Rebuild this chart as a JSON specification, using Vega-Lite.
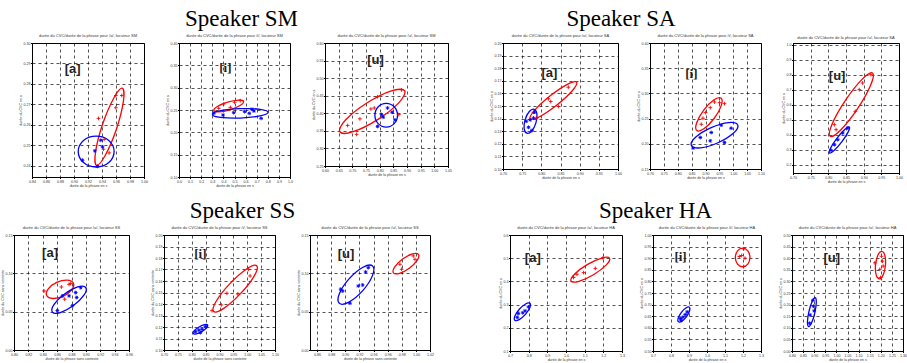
{
"$schema":"https://vega.github.io/schema/vega-lite/v6.json",
"padding":{"left":0,"top":8,"right":0,"bottom":0},
"background":"white",
"config":{
 "view":{"stroke":"black","strokeWidth":1},
 "axis":{"labelFontSize":3.6,"titleFontSize":3.6,"titleFontWeight":"normal","labelFont":"Liberation Sans","titleFont":"Liberation Sans","labelColor":"#333","titleColor":"#333","tickSize":1.5,"tickColor":"black","labelPadding":0.5,"titlePadding":0.5,"grid":true,"gridColor":"black","gridDash":[3,3],"gridWidth":0.8,"gridOpacity":0.85,"domainColor":"black","labelOverlap":false,"labelFlush":false},
 "title":{"fontSize":4,"font":"Liberation Sans","fontWeight":"normal","offset":3,"color":"#333"}
},
"data":{"values":[
{"p":"SMa","k":"e","g":"r","o":0,"x":0.969,"y":0.2779},{"p":"SMa","k":"e","g":"r","o":1,"x":0.9706,"y":0.2715},{"p":"SMa","k":"e","g":"r","o":2,"x":0.9607,"y":0.2579},{"p":"SMa","k":"e","g":"r","o":3,"x":0.9445,"y":0.2449},{"p":"SMa","k":"e","g":"r","o":4,"x":0.9322,"y":0.2401},{"p":"SMa","k":"e","g":"r","o":5,"x":0.9307,"y":0.2465},{"p":"SMa","k":"e","g":"r","o":6,"x":0.9407,"y":0.2601},{"p":"SMa","k":"e","g":"r","o":7,"x":0.9569,"y":0.2731},
{"p":"SMa","k":"e","g":"b","o":0,"x":0.9573,"y":0.2469},{"p":"SMa","k":"e","g":"b","o":1,"x":0.9497,"y":0.2523},{"p":"SMa","k":"e","g":"b","o":2,"x":0.9317,"y":0.2544},{"p":"SMa","k":"e","g":"b","o":3,"x":0.9136,"y":0.2523},{"p":"SMa","k":"e","g":"b","o":4,"x":0.906,"y":0.2469},{"p":"SMa","k":"e","g":"b","o":5,"x":0.9136,"y":0.2415},{"p":"SMa","k":"e","g":"b","o":6,"x":0.9317,"y":0.2393},{"p":"SMa","k":"e","g":"b","o":7,"x":0.9497,"y":0.2415},
{"p":"SMa","k":"p","g":"r","x":0.935,"y":0.2631},{"p":"SMa","k":"p","g":"r","x":0.9597,"y":0.2743},{"p":"SMa","k":"p","g":"r","x":0.9683,"y":0.2743},{"p":"SMa","k":"p","g":"r","x":0.9597,"y":0.2683},{"p":"SMa","k":"p","g":"r","x":0.9431,"y":0.2528},{"p":"SMa","k":"p","g":"r","x":0.9502,"y":0.2462},{"p":"SMa","k":"p","g":"r","x":0.9421,"y":0.248},
{"p":"SMa","k":"p","g":"b","x":0.9298,"y":0.2472},{"p":"SMa","k":"p","g":"b","x":0.9383,"y":0.2524},{"p":"SMa","k":"p","g":"b","x":0.9407,"y":0.2492},{"p":"SMa","k":"p","g":"b","x":0.9122,"y":0.2426},{"p":"SMa","k":"p","g":"b","x":0.9336,"y":0.2396},
{"p":"SMa","k":"t","x":0.898,"y":0.2872,"t":"[a]"},
{"p":"SMi","k":"e","g":"r","o":0,"x":0.582,"y":0.2691},{"p":"SMi","k":"e","g":"r","o":1,"x":0.55,"y":0.2601},{"p":"SMi","k":"e","g":"r","o":2,"x":0.458,"y":0.2504},{"p":"SMi","k":"e","g":"r","o":3,"x":0.36,"y":0.2457},{"p":"SMi","k":"e","g":"r","o":4,"x":0.313,"y":0.2489},{"p":"SMi","k":"e","g":"r","o":5,"x":0.346,"y":0.2579},{"p":"SMi","k":"e","g":"r","o":6,"x":0.438,"y":0.2676},{"p":"SMi","k":"e","g":"r","o":7,"x":0.536,"y":0.2723},
{"p":"SMi","k":"e","g":"b","o":0,"x":0.803,"y":0.2448},{"p":"SMi","k":"e","g":"b","o":1,"x":0.73,"y":0.2366},{"p":"SMi","k":"e","g":"b","o":2,"x":0.552,"y":0.232},{"p":"SMi","k":"e","g":"b","o":3,"x":0.375,"y":0.2335},{"p":"SMi","k":"e","g":"b","o":4,"x":0.301,"y":0.2402},{"p":"SMi","k":"e","g":"b","o":5,"x":0.375,"y":0.2484},{"p":"SMi","k":"e","g":"b","o":6,"x":0.552,"y":0.253},{"p":"SMi","k":"e","g":"b","o":7,"x":0.73,"y":0.2515},
{"p":"SMi","k":"p","g":"r","x":0.358,"y":0.2538},{"p":"SMi","k":"p","g":"r","x":0.463,"y":0.256},{"p":"SMi","k":"p","g":"r","x":0.501,"y":0.2673},{"p":"SMi","k":"p","g":"r","x":0.552,"y":0.271},{"p":"SMi","k":"p","g":"r","x":0.403,"y":0.2635},
{"p":"SMi","k":"p","g":"b","x":0.313,"y":0.2425},{"p":"SMi","k":"p","g":"b","x":0.397,"y":0.2388},{"p":"SMi","k":"p","g":"b","x":0.493,"y":0.244},{"p":"SMi","k":"p","g":"b","x":0.591,"y":0.2463},{"p":"SMi","k":"p","g":"b","x":0.657,"y":0.2515},{"p":"SMi","k":"p","g":"b","x":0.675,"y":0.2478},{"p":"SMi","k":"p","g":"b","x":0.74,"y":0.2313},{"p":"SMi","k":"p","g":"b","x":0.633,"y":0.2425},
{"p":"SMi","k":"t","x":0.418,"y":0.3438,"t":"[i]"},
{"p":"SMu","k":"e","g":"r","o":0,"x":0.8915,"y":0.4643},{"p":"SMu","k":"e","g":"r","o":1,"x":0.8707,"y":0.4304},{"p":"SMu","k":"e","g":"r","o":2,"x":0.7925,"y":0.382},{"p":"SMu","k":"e","g":"r","o":3,"x":0.7028,"y":0.3475},{"p":"SMu","k":"e","g":"r","o":4,"x":0.6542,"y":0.3471},{"p":"SMu","k":"e","g":"r","o":5,"x":0.675,"y":0.381},{"p":"SMu","k":"e","g":"r","o":6,"x":0.7531,"y":0.4294},{"p":"SMu","k":"e","g":"r","o":7,"x":0.8428,"y":0.4639},
{"p":"SMu","k":"e","g":"b","o":0,"x":0.8653,"y":0.3945},{"p":"SMu","k":"e","g":"b","o":1,"x":0.8531,"y":0.4184},{"p":"SMu","k":"e","g":"b","o":2,"x":0.8239,"y":0.4282},{"p":"SMu","k":"e","g":"b","o":3,"x":0.7947,"y":0.4184},{"p":"SMu","k":"e","g":"b","o":4,"x":0.7826,"y":0.3945},{"p":"SMu","k":"e","g":"b","o":5,"x":0.7947,"y":0.3705},{"p":"SMu","k":"e","g":"b","o":6,"x":0.8239,"y":0.3607},{"p":"SMu","k":"e","g":"b","o":7,"x":0.8531,"y":0.3705},
{"p":"SMu","k":"p","g":"r","x":0.88,"y":0.4667},{"p":"SMu","k":"p","g":"r","x":0.7923,"y":0.447},{"p":"SMu","k":"p","g":"r","x":0.7801,"y":0.4151},{"p":"SMu","k":"p","g":"r","x":0.768,"y":0.4123},{"p":"SMu","k":"p","g":"r","x":0.7278,"y":0.3841},{"p":"SMu","k":"p","g":"r","x":0.6828,"y":0.3654},{"p":"SMu","k":"p","g":"r","x":0.7156,"y":0.34},{"p":"SMu","k":"p","g":"r","x":0.8702,"y":0.3963},
{"p":"SMu","k":"p","g":"b","x":0.8069,"y":0.3963},{"p":"SMu","k":"p","g":"b","x":0.813,"y":0.3888},{"p":"SMu","k":"p","g":"b","x":0.8458,"y":0.4029},{"p":"SMu","k":"p","g":"b","x":0.8288,"y":0.4151},{"p":"SMu","k":"p","g":"b","x":0.8556,"y":0.3813},{"p":"SMu","k":"p","g":"b","x":0.7923,"y":0.3626},
{"p":"SMu","k":"t","x":0.785,"y":0.553,"t":"[u]"},
{"p":"SAa","k":"e","g":"r","o":0,"x":0.892,"y":0.1689},{"p":"SAa","k":"e","g":"r","o":1,"x":0.8807,"y":0.1621},{"p":"SAa","k":"e","g":"r","o":2,"x":0.8406,"y":0.1508},{"p":"SAa","k":"e","g":"r","o":3,"x":0.7951,"y":0.1415},{"p":"SAa","k":"e","g":"r","o":4,"x":0.7709,"y":0.1398},{"p":"SAa","k":"e","g":"r","o":5,"x":0.7823,"y":0.1465},{"p":"SAa","k":"e","g":"r","o":6,"x":0.8224,"y":0.1579},{"p":"SAa","k":"e","g":"r","o":7,"x":0.8679,"y":0.1672},
{"p":"SAa","k":"e","g":"b","o":0,"x":0.7813,"y":0.1474},{"p":"SAa","k":"e","g":"b","o":1,"x":0.7885,"y":0.1437},{"p":"SAa","k":"e","g":"b","o":2,"x":0.7859,"y":0.1366},{"p":"SAa","k":"e","g":"b","o":3,"x":0.775,"y":0.1302},{"p":"SAa","k":"e","g":"b","o":4,"x":0.7623,"y":0.1284},{"p":"SAa","k":"e","g":"b","o":5,"x":0.7551,"y":0.1321},{"p":"SAa","k":"e","g":"b","o":6,"x":0.7577,"y":0.1392},{"p":"SAa","k":"e","g":"b","o":7,"x":0.7686,"y":0.1456},
{"p":"SAa","k":"p","g":"r","x":0.8185,"y":0.1557},{"p":"SAa","k":"p","g":"r","x":0.8246,"y":0.1535},{"p":"SAa","k":"p","g":"r","x":0.8445,"y":0.1496},{"p":"SAa","k":"p","g":"r","x":0.8704,"y":0.1649},{"p":"SAa","k":"p","g":"r","x":0.7796,"y":0.145},{"p":"SAa","k":"p","g":"r","x":0.7882,"y":0.1405},
{"p":"SAa","k":"p","g":"b","x":0.7606,"y":0.1379},{"p":"SAa","k":"p","g":"b","x":0.7709,"y":0.139},{"p":"SAa","k":"p","g":"b","x":0.7796,"y":0.1405},{"p":"SAa","k":"p","g":"b","x":0.7666,"y":0.1331},{"p":"SAa","k":"p","g":"b","x":0.7753,"y":0.1305},{"p":"SAa","k":"p","g":"b","x":0.7822,"y":0.1451},
{"p":"SAa","k":"t","x":0.8211,"y":0.1761,"t":"[a]"},
{"p":"SAi","k":"e","g":"r","o":0,"x":0.9559,"y":0.2908},{"p":"SAi","k":"e","g":"r","o":1,"x":0.9567,"y":0.2758},{"p":"SAi","k":"e","g":"r","o":2,"x":0.9316,"y":0.2507},{"p":"SAi","k":"e","g":"r","o":3,"x":0.8952,"y":0.2302},{"p":"SAi","k":"e","g":"r","o":4,"x":0.8688,"y":0.2263},{"p":"SAi","k":"e","g":"r","o":5,"x":0.868,"y":0.2413},{"p":"SAi","k":"e","g":"r","o":6,"x":0.8931,"y":0.2665},{"p":"SAi","k":"e","g":"r","o":7,"x":0.9295,"y":0.2869},
{"p":"SAi","k":"e","g":"b","o":0,"x":1.0161,"y":0.2375},{"p":"SAi","k":"e","g":"b","o":1,"x":1.0002,"y":0.2209},{"p":"SAi","k":"e","g":"b","o":2,"x":0.9447,"y":0.2021},{"p":"SAi","k":"e","g":"b","o":3,"x":0.8822,"y":0.192},{"p":"SAi","k":"e","g":"b","o":4,"x":0.8491,"y":0.1967},{"p":"SAi","k":"e","g":"b","o":5,"x":0.8651,"y":0.2134},{"p":"SAi","k":"e","g":"b","o":6,"x":0.9206,"y":0.2322},{"p":"SAi","k":"e","g":"b","o":7,"x":0.9831,"y":0.2422},
{"p":"SAi","k":"p","g":"r","x":0.9326,"y":0.2829},{"p":"SAi","k":"p","g":"r","x":0.9505,"y":0.2816},{"p":"SAi","k":"p","g":"r","x":0.9684,"y":0.2796},{"p":"SAi","k":"p","g":"r","x":0.9171,"y":0.2717},{"p":"SAi","k":"p","g":"r","x":0.9004,"y":0.2619},{"p":"SAi","k":"p","g":"r","x":0.8909,"y":0.2507},{"p":"SAi","k":"p","g":"r","x":0.8849,"y":0.2388},
{"p":"SAi","k":"p","g":"b","x":0.8813,"y":0.2125},{"p":"SAi","k":"p","g":"b","x":0.9171,"y":0.2059},{"p":"SAi","k":"p","g":"b","x":0.9207,"y":0.2224},{"p":"SAi","k":"p","g":"b","x":0.9565,"y":0.2369},{"p":"SAi","k":"p","g":"b","x":0.9684,"y":0.2026},{"p":"SAi","k":"p","g":"b","x":0.9923,"y":0.2309},{"p":"SAi","k":"p","g":"b","x":0.8551,"y":0.1915},
{"p":"SAi","k":"t","x":0.8491,"y":0.3388,"t":"[i]"},
{"p":"SAu","k":"e","g":"r","o":0,"x":0.9251,"y":0.8111},{"p":"SAu","k":"e","g":"r","o":1,"x":0.9197,"y":0.73},{"p":"SAu","k":"e","g":"r","o":2,"x":0.8823,"y":0.5726},{"p":"SAu","k":"e","g":"r","o":3,"x":0.8348,"y":0.4313},{"p":"SAu","k":"e","g":"r","o":4,"x":0.8051,"y":0.3889},{"p":"SAu","k":"e","g":"r","o":5,"x":0.8105,"y":0.47},{"p":"SAu","k":"e","g":"r","o":6,"x":0.8479,"y":0.6273},{"p":"SAu","k":"e","g":"r","o":7,"x":0.8954,"y":0.7686},
{"p":"SAu","k":"e","g":"b","o":0,"x":0.8595,"y":0.4511},{"p":"SAu","k":"e","g":"b","o":1,"x":0.8559,"y":0.4171},{"p":"SAu","k":"e","g":"b","o":2,"x":0.838,"y":0.3522},{"p":"SAu","k":"e","g":"b","o":3,"x":0.8161,"y":0.2944},{"p":"SAu","k":"e","g":"b","o":4,"x":0.8032,"y":0.2778},{"p":"SAu","k":"e","g":"b","o":5,"x":0.8067,"y":0.3118},{"p":"SAu","k":"e","g":"b","o":6,"x":0.8247,"y":0.3767},{"p":"SAu","k":"e","g":"b","o":7,"x":0.8465,"y":0.4344},
{"p":"SAu","k":"p","g":"r","x":0.9204,"y":0.8},{"p":"SAu","k":"p","g":"r","x":0.897,"y":0.7444},{"p":"SAu","k":"p","g":"r","x":0.8876,"y":0.7},{"p":"SAu","k":"p","g":"r","x":0.8763,"y":0.5555},{"p":"SAu","k":"p","g":"r","x":0.8173,"y":0.4666},{"p":"SAu","k":"p","g":"r","x":0.8219,"y":0.4333},
{"p":"SAu","k":"p","g":"b","x":0.8548,"y":0.4444},{"p":"SAu","k":"p","g":"b","x":0.8407,"y":0.4111},{"p":"SAu","k":"p","g":"b","x":0.8266,"y":0.3667},{"p":"SAu","k":"p","g":"b","x":0.8173,"y":0.3333},{"p":"SAu","k":"p","g":"b","x":0.8079,"y":0.2955},
{"p":"SAu","k":"t","x":0.8248,"y":0.7933,"t":"[u]"},
{"p":"SSa","k":"e","g":"r","o":0,"x":0.8826,"y":0.0873},{"p":"SSa","k":"e","g":"r","o":1,"x":0.8804,"y":0.0786},{"p":"SSa","k":"e","g":"r","o":2,"x":0.8686,"y":0.0703},{"p":"SSa","k":"e","g":"r","o":3,"x":0.8541,"y":0.0672},{"p":"SSa","k":"e","g":"r","o":4,"x":0.8455,"y":0.071},{"p":"SSa","k":"e","g":"r","o":5,"x":0.8477,"y":0.0797},{"p":"SSa","k":"e","g":"r","o":6,"x":0.8594,"y":0.0881},{"p":"SSa","k":"e","g":"r","o":7,"x":0.8739,"y":0.0912},
{"p":"SSa","k":"e","g":"b","o":0,"x":0.8998,"y":0.0815},{"p":"SSa","k":"e","g":"b","o":1,"x":0.8973,"y":0.0715},{"p":"SSa","k":"e","g":"b","o":2,"x":0.8827,"y":0.058},{"p":"SSa","k":"e","g":"b","o":3,"x":0.8645,"y":0.0488},{"p":"SSa","k":"e","g":"b","o":4,"x":0.8534,"y":0.0494},{"p":"SSa","k":"e","g":"b","o":5,"x":0.8558,"y":0.0594},{"p":"SSa","k":"e","g":"b","o":6,"x":0.8704,"y":0.073},{"p":"SSa","k":"e","g":"b","o":7,"x":0.8886,"y":0.0822},
{"p":"SSa","k":"p","g":"r","x":0.8418,"y":0.077},{"p":"SSa","k":"p","g":"r","x":0.8659,"y":0.0822},{"p":"SSa","k":"p","g":"r","x":0.8705,"y":0.0663},{"p":"SSa","k":"p","g":"r","x":0.8766,"y":0.0856},{"p":"SSa","k":"p","g":"r","x":0.8789,"y":0.0867},
{"p":"SSa","k":"p","g":"b","x":0.8603,"y":0.0514},{"p":"SSa","k":"p","g":"b","x":0.8673,"y":0.0706},{"p":"SSa","k":"p","g":"b","x":0.8766,"y":0.0706},{"p":"SSa","k":"p","g":"b","x":0.8858,"y":0.0749},{"p":"SSa","k":"p","g":"b","x":0.8872,"y":0.0685},{"p":"SSa","k":"p","g":"b","x":0.8928,"y":0.0813},{"p":"SSa","k":"p","g":"b","x":0.8812,"y":0.0578},
{"p":"SSa","k":"t","x":0.8501,"y":0.1271,"t":"[a]"},
{"p":"SSi","k":"e","g":"r","o":0,"x":1.034,"y":0.1732},{"p":"SSi","k":"e","g":"r","o":1,"x":1.0249,"y":0.1643},{"p":"SSi","k":"e","g":"r","o":2,"x":0.9756,"y":0.149},{"p":"SSi","k":"e","g":"r","o":3,"x":0.9152,"y":0.1362},{"p":"SSi","k":"e","g":"r","o":4,"x":0.879,"y":0.1335},{"p":"SSi","k":"e","g":"r","o":5,"x":0.8881,"y":0.1424},{"p":"SSi","k":"e","g":"r","o":6,"x":0.9374,"y":0.1577},{"p":"SSi","k":"e","g":"r","o":7,"x":0.9978,"y":0.1705},
{"p":"SSi","k":"e","g":"b","o":0,"x":0.8575,"y":0.1216},{"p":"SSi","k":"e","g":"b","o":1,"x":0.8532,"y":0.1191},{"p":"SSi","k":"e","g":"b","o":2,"x":0.836,"y":0.116},{"p":"SSi","k":"e","g":"b","o":3,"x":0.8161,"y":0.114},{"p":"SSi","k":"e","g":"b","o":4,"x":0.805,"y":0.1144},{"p":"SSi","k":"e","g":"b","o":5,"x":0.8093,"y":0.1168},{"p":"SSi","k":"e","g":"b","o":6,"x":0.8265,"y":0.12},{"p":"SSi","k":"e","g":"b","o":7,"x":0.8464,"y":0.122},
{"p":"SSi","k":"p","g":"r","x":1.0042,"y":0.1702},{"p":"SSi","k":"p","g":"r","x":1.0102,"y":0.1644},{"p":"SSi","k":"p","g":"r","x":0.966,"y":0.1487},{"p":"SSi","k":"p","g":"r","x":0.9267,"y":0.1493},{"p":"SSi","k":"p","g":"r","x":0.9064,"y":0.1392},{"p":"SSi","k":"p","g":"r","x":0.873,"y":0.1342},
{"p":"SSi","k":"p","g":"b","x":0.8133,"y":0.116},{"p":"SSi","k":"p","g":"b","x":0.8253,"y":0.1174},{"p":"SSi","k":"p","g":"b","x":0.8372,"y":0.118},{"p":"SSi","k":"p","g":"b","x":0.8491,"y":0.1203},{"p":"SSi","k":"p","g":"b","x":0.8312,"y":0.1151},
{"p":"SSi","k":"t","x":0.8312,"y":0.1832,"t":"[i]"},
{"p":"SSu","k":"e","g":"r","o":0,"x":1.0036,"y":0.1246},{"p":"SSu","k":"e","g":"r","o":1,"x":1.0018,"y":0.1169},{"p":"SSu","k":"e","g":"r","o":2,"x":0.9907,"y":0.1067},{"p":"SSu","k":"e","g":"r","o":3,"x":0.9768,"y":0.1},{"p":"SSu","k":"e","g":"r","o":4,"x":0.9682,"y":0.1007},{"p":"SSu","k":"e","g":"r","o":5,"x":0.9701,"y":0.1084},{"p":"SSu","k":"e","g":"r","o":6,"x":0.9812,"y":0.1186},{"p":"SSu","k":"e","g":"r","o":7,"x":0.9951,"y":0.1253},
{"p":"SSu","k":"e","g":"b","o":0,"x":0.9387,"y":0.1096},{"p":"SSu","k":"e","g":"b","o":1,"x":0.9385,"y":0.097},{"p":"SSu","k":"e","g":"b","o":2,"x":0.9247,"y":0.0774},{"p":"SSu","k":"e","g":"b","o":3,"x":0.9052,"y":0.0625},{"p":"SSu","k":"e","g":"b","o":4,"x":0.8915,"y":0.0609},{"p":"SSu","k":"e","g":"b","o":5,"x":0.8917,"y":0.0736},{"p":"SSu","k":"e","g":"b","o":6,"x":0.9056,"y":0.0931},{"p":"SSu","k":"e","g":"b","o":7,"x":0.9251,"y":0.108},
{"p":"SSu","k":"p","g":"r","x":0.9774,"y":0.1118},{"p":"SSu","k":"p","g":"r","x":0.9798,"y":0.1053},{"p":"SSu","k":"p","g":"r","x":0.9963,"y":0.1227},{"p":"SSu","k":"p","g":"r","x":0.9987,"y":0.1183},
{"p":"SSu","k":"p","g":"b","x":0.8934,"y":0.0792},{"p":"SSu","k":"p","g":"b","x":0.8963,"y":0.077},{"p":"SSu","k":"p","g":"b","x":0.9184,"y":0.0835},{"p":"SSu","k":"p","g":"b","x":0.9288,"y":0.1018},{"p":"SSu","k":"p","g":"b","x":0.9326,"y":0.1074},{"p":"SSu","k":"p","g":"b","x":0.9066,"y":0.0609},{"p":"SSu","k":"p","g":"b","x":0.9246,"y":0.0848},
{"p":"SSu","k":"t","x":0.901,"y":0.1257,"t":"[u]"},
{"p":"HAa","k":"e","g":"r","o":0,"x":1.2331,"y":0.4999},{"p":"HAa","k":"e","g":"r","o":1,"x":1.2148,"y":0.4702},{"p":"HAa","k":"e","g":"r","o":2,"x":1.1469,"y":0.4289},{"p":"HAa","k":"e","g":"r","o":3,"x":1.0692,"y":0.4005},{"p":"HAa","k":"e","g":"r","o":4,"x":1.027,"y":0.4013},{"p":"HAa","k":"e","g":"r","o":5,"x":1.0453,"y":0.431},{"p":"HAa","k":"e","g":"r","o":6,"x":1.1132,"y":0.4723},{"p":"HAa","k":"e","g":"r","o":7,"x":1.191,"y":0.5007},
{"p":"HAa","k":"e","g":"b","o":0,"x":0.8066,"y":0.3056},{"p":"HAa","k":"e","g":"b","o":1,"x":0.8063,"y":0.2871},{"p":"HAa","k":"e","g":"b","o":2,"x":0.7826,"y":0.258},{"p":"HAa","k":"e","g":"b","o":3,"x":0.7493,"y":0.2353},{"p":"HAa","k":"e","g":"b","o":4,"x":0.726,"y":0.2324},{"p":"HAa","k":"e","g":"b","o":5,"x":0.7263,"y":0.2508},{"p":"HAa","k":"e","g":"b","o":6,"x":0.75,"y":0.2799},{"p":"HAa","k":"e","g":"b","o":7,"x":0.7833,"y":0.3026},
{"p":"HAa","k":"p","g":"r","x":1.0584,"y":0.4309},{"p":"HAa","k":"p","g":"r","x":1.0942,"y":0.4379},{"p":"HAa","k":"p","g":"r","x":1.157,"y":0.4562},{"p":"HAa","k":"p","g":"r","x":1.1982,"y":0.5013},{"p":"HAa","k":"p","g":"r","x":1.0405,"y":0.4168},
{"p":"HAa","k":"p","g":"b","x":0.7448,"y":0.2619},{"p":"HAa","k":"p","g":"b","x":0.7681,"y":0.2647},{"p":"HAa","k":"p","g":"b","x":0.7806,"y":0.2732},{"p":"HAa","k":"p","g":"b","x":0.7986,"y":0.2901},{"p":"HAa","k":"p","g":"b","x":0.7394,"y":0.245},
{"p":"HAa","k":"t","x":0.8219,"y":0.5013,"t":"[a]"},
{"p":"HAi","k":"e","g":"r","o":0,"x":1.2387,"y":0.903},{"p":"HAi","k":"e","g":"r","o":1,"x":1.2269,"y":0.9313},{"p":"HAi","k":"e","g":"r","o":2,"x":1.1982,"y":0.943},{"p":"HAi","k":"e","g":"r","o":3,"x":1.1694,"y":0.9313},{"p":"HAi","k":"e","g":"r","o":4,"x":1.1576,"y":0.903},{"p":"HAi","k":"e","g":"r","o":5,"x":1.1694,"y":0.8747},{"p":"HAi","k":"e","g":"r","o":6,"x":1.1982,"y":0.863},{"p":"HAi","k":"e","g":"r","o":7,"x":1.2269,"y":0.8747},
{"p":"HAi","k":"e","g":"b","o":0,"x":0.902,"y":0.6886},{"p":"HAi","k":"e","g":"b","o":1,"x":0.9035,"y":0.6733},{"p":"HAi","k":"e","g":"b","o":2,"x":0.8863,"y":0.6486},{"p":"HAi","k":"e","g":"b","o":3,"x":0.8605,"y":0.6289},{"p":"HAi","k":"e","g":"b","o":4,"x":0.8411,"y":0.6258},{"p":"HAi","k":"e","g":"b","o":5,"x":0.8397,"y":0.641},{"p":"HAi","k":"e","g":"b","o":6,"x":0.8568,"y":0.6658},{"p":"HAi","k":"e","g":"b","o":7,"x":0.8827,"y":0.6855},
{"p":"HAi","k":"p","g":"r","x":1.1797,"y":0.9073},{"p":"HAi","k":"p","g":"r","x":1.2111,"y":0.9001},{"p":"HAi","k":"p","g":"r","x":1.2037,"y":0.9401},{"p":"HAi","k":"p","g":"r","x":1.2037,"y":0.8644},{"p":"HAi","k":"p","g":"r","x":1.1926,"y":0.9116},
{"p":"HAi","k":"p","g":"b","x":0.8531,"y":0.64},{"p":"HAi","k":"p","g":"b","x":0.866,"y":0.6458},{"p":"HAi","k":"p","g":"b","x":0.879,"y":0.6572},{"p":"HAi","k":"p","g":"b","x":0.89,"y":0.6686},{"p":"HAi","k":"p","g":"b","x":0.8568,"y":0.6315},
{"p":"HAi","k":"t","x":0.8531,"y":0.9073,"t":"[i]"},
{"p":"HAu","k":"e","g":"r","o":0,"x":1.1927,"y":0.3112},{"p":"HAu","k":"e","g":"r","o":1,"x":1.2101,"y":0.3271},{"p":"HAu","k":"e","g":"r","o":2,"x":1.2209,"y":0.3683},{"p":"HAu","k":"e","g":"r","o":3,"x":1.2186,"y":0.4107},{"p":"HAu","k":"e","g":"r","o":4,"x":1.2046,"y":0.4294},{"p":"HAu","k":"e","g":"r","o":5,"x":1.1871,"y":0.4135},{"p":"HAu","k":"e","g":"r","o":6,"x":1.1764,"y":0.3723},{"p":"HAu","k":"e","g":"r","o":7,"x":1.1786,"y":0.3299},
{"p":"HAu","k":"e","g":"b","o":0,"x":0.9045,"y":0.2295},{"p":"HAu","k":"e","g":"b","o":1,"x":0.9094,"y":0.2094},{"p":"HAu","k":"e","g":"b","o":2,"x":0.9027,"y":0.1647},{"p":"HAu","k":"e","g":"b","o":3,"x":0.8884,"y":0.1218},{"p":"HAu","k":"e","g":"b","o":4,"x":0.8747,"y":0.1056},{"p":"HAu","k":"e","g":"b","o":5,"x":0.8697,"y":0.1257},{"p":"HAu","k":"e","g":"b","o":6,"x":0.8764,"y":0.1704},{"p":"HAu","k":"e","g":"b","o":7,"x":0.8908,"y":0.2133},
{"p":"HAu","k":"p","g":"r","x":1.1733,"y":0.3802},{"p":"HAu","k":"p","g":"r","x":1.2031,"y":0.4083},{"p":"HAu","k":"p","g":"r","x":1.2076,"y":0.3872},{"p":"HAu","k":"p","g":"r","x":1.2106,"y":0.3661},{"p":"HAu","k":"p","g":"r","x":1.1956,"y":0.352},{"p":"HAu","k":"p","g":"r","x":1.1986,"y":0.3168},
{"p":"HAu","k":"p","g":"b","x":0.897,"y":0.1929},{"p":"HAu","k":"p","g":"b","x":0.9,"y":0.1732},{"p":"HAu","k":"p","g":"b","x":0.8821,"y":0.1549},{"p":"HAu","k":"p","g":"b","x":0.8791,"y":0.1197},{"p":"HAu","k":"p","g":"b","x":0.894,"y":0.2182},
{"p":"HAu","k":"t","x":0.9792,"y":0.4013,"t":"[u]"}
]},
"spacing":12,
"vconcat":[
{"bounds":"flush","spacing":0,"hconcat":[
 {"width":18,"height":10,"data":{"values":[]},"mark":"point","view":{"stroke":null}},
 {"width":112,"height":134,"title":"durée du CVC/durée de la phrase pour /a/, locuteur SM",
  "transform":[{"filter":"datum.p=='SMa'"}],
  "encoding":{"x":{"field":"x","type":"quantitative","scale":{"domain":[0.84,1],"nice":false},"axis":{"values":[0.84,0.86,0.88,0.9,0.92,0.94,0.96,0.98,1],"title":"durée de la phrase en s"}},
              "y":{"field":"y","type":"quantitative","scale":{"domain":[0.2344,0.3],"nice":false},"axis":{"values":[0.24,0.25,0.26,0.27,0.28,0.29,0.3],"title":"durée du CVC en s"}}},
  "layer":[
   {"transform":[{"filter":"datum.k=='e'"}],"mark":{"type":"line","interpolate":"cardinal-closed","strokeWidth":1.3,"clip":true},"encoding":{"color":{"field":"g","type":"nominal","scale":{"domain":["r","b"],"range":["#ff0000","#0000ff"]},"legend":null},"order":{"field":"o","type":"quantitative"}}},
   {"transform":[{"filter":"datum.k=='p'"}],"mark":{"type":"point","filled":false,"size":14,"strokeWidth":0.9,"opacity":1,"clip":true},"encoding":{"color":{"field":"g","type":"nominal","scale":{"domain":["r","b"],"range":["#ff0000","#0000ff"]},"legend":null},"shape":{"field":"g","type":"nominal","scale":{"domain":["r","b"],"range":["M-1,0L1,0M0,-1L0,1","M-1,0L1,0M0,-1L0,1M-0.7,-0.7L0.7,0.7M-0.7,0.7L0.7,-0.7"]},"legend":null}}},
   {"transform":[{"filter":"datum.k=='t'"}],"mark":{"type":"text","font":"Liberation Sans","fontWeight":"bold","fontSize":13,"color":"#222"},"encoding":{"text":{"field":"t"}}}
  ]},
 {"width":35,"height":10,"data":{"values":[]},"mark":"point","view":{"stroke":null},
  "title":{"text":"Speaker SM","fontSize":23,"font":"Liberation Serif","fontWeight":"normal","color":"black","offset":12,"dx":80}},
 {"width":111,"height":134,"title":"durée du CVC/durée de la phrase pour /i/, locuteur SM",
  "transform":[{"filter":"datum.p=='SMi'"}],
  "encoding":{"x":{"field":"x","type":"quantitative","scale":{"domain":[0,1],"nice":false},"axis":{"values":[0,0.1,0.2,0.3,0.4,0.5,0.6,0.7,0.8,0.9,1],"title":"durée de la phrase en s"}},
              "y":{"field":"y","type":"quantitative","scale":{"domain":[0.1,0.4],"nice":false},"axis":{"values":[0.1,0.15,0.2,0.25,0.3,0.35,0.4],"title":"durée du CVC en s"}}},
  "layer":[
   {"transform":[{"filter":"datum.k=='e'"}],"mark":{"type":"line","interpolate":"cardinal-closed","strokeWidth":1.3,"clip":true},"encoding":{"color":{"field":"g","type":"nominal","scale":{"domain":["r","b"],"range":["#ff0000","#0000ff"]},"legend":null},"order":{"field":"o","type":"quantitative"}}},
   {"transform":[{"filter":"datum.k=='p'"}],"mark":{"type":"point","filled":false,"size":14,"strokeWidth":0.9,"opacity":1,"clip":true},"encoding":{"color":{"field":"g","type":"nominal","scale":{"domain":["r","b"],"range":["#ff0000","#0000ff"]},"legend":null},"shape":{"field":"g","type":"nominal","scale":{"domain":["r","b"],"range":["M-1,0L1,0M0,-1L0,1","M-1,0L1,0M0,-1L0,1M-0.7,-0.7L0.7,0.7M-0.7,0.7L0.7,-0.7"]},"legend":null}}},
   {"transform":[{"filter":"datum.k=='t'"}],"mark":{"type":"text","font":"Liberation Serif","fontWeight":"bold","fontSize":13,"color":"#222"},"encoding":{"text":{"field":"t"}}}
  ]},
 {"width":35,"height":10,"data":{"values":[]},"mark":"point","view":{"stroke":null}},
 {"width":123,"height":123,"title":"durée du CVC/durée de la phrase pour /u/, locuteur SM",
  "transform":[{"filter":"datum.p=='SMu'"}],
  "encoding":{"x":{"field":"x","type":"quantitative","scale":{"domain":[0.6,1.05],"nice":false},"axis":{"values":[0.6,0.65,0.7,0.75,0.8,0.85,0.9,0.95,1,1.05],"title":"durée de la phrase en s"}},
              "y":{"field":"y","type":"quantitative","scale":{"domain":[0.25,0.6],"nice":false},"axis":{"values":[0.25,0.3,0.35,0.4,0.45,0.5,0.55,0.6],"title":"durée du CVC en s"}}},
  "layer":[
   {"transform":[{"filter":"datum.k=='e'"}],"mark":{"type":"line","interpolate":"cardinal-closed","strokeWidth":1.3,"clip":true},"encoding":{"color":{"field":"g","type":"nominal","scale":{"domain":["r","b"],"range":["#ff0000","#0000ff"]},"legend":null},"order":{"field":"o","type":"quantitative"}}},
   {"transform":[{"filter":"datum.k=='p'"}],"mark":{"type":"point","filled":false,"size":14,"strokeWidth":0.9,"opacity":1,"clip":true},"encoding":{"color":{"field":"g","type":"nominal","scale":{"domain":["r","b"],"range":["#ff0000","#0000ff"]},"legend":null},"shape":{"field":"g","type":"nominal","scale":{"domain":["r","b"],"range":["M-1,0L1,0M0,-1L0,1","M-1,0L1,0M0,-1L0,1M-0.7,-0.7L0.7,0.7M-0.7,0.7L0.7,-0.7"]},"legend":null}}},
   {"transform":[{"filter":"datum.k=='t'"}],"mark":{"type":"text","font":"Liberation Sans","fontWeight":"bold","fontSize":13,"color":"#222"},"encoding":{"text":{"field":"t"}}}
  ]},
 {"width":55,"height":10,"data":{"values":[]},"mark":"point","view":{"stroke":null}},
 {"width":115,"height":126,"title":"durée du CVC/durée de la phrase pour /a/, locuteur SA",
  "transform":[{"filter":"datum.p=='SAa'"}],
  "encoding":{"x":{"field":"x","type":"quantitative","scale":{"domain":[0.7,1],"nice":false},"axis":{"values":[0.7,0.75,0.8,0.85,0.9,0.95,1],"title":"durée de la phrase en s"}},
              "y":{"field":"y","type":"quantitative","scale":{"domain":[0.1,0.2],"nice":false},"axis":{"values":[0.1,0.11,0.12,0.13,0.14,0.15,0.16,0.17,0.18,0.19,0.2],"title":"durée du CVC en s"}}},
  "layer":[
   {"transform":[{"filter":"datum.k=='e'"}],"mark":{"type":"line","interpolate":"cardinal-closed","strokeWidth":1.3,"clip":true},"encoding":{"color":{"field":"g","type":"nominal","scale":{"domain":["r","b"],"range":["#ff0000","#0000ff"]},"legend":null},"order":{"field":"o","type":"quantitative"}}},
   {"transform":[{"filter":"datum.k=='p'"}],"mark":{"type":"point","filled":false,"size":14,"strokeWidth":0.9,"opacity":1,"clip":true},"encoding":{"color":{"field":"g","type":"nominal","scale":{"domain":["r","b"],"range":["#ff0000","#0000ff"]},"legend":null},"shape":{"field":"g","type":"nominal","scale":{"domain":["r","b"],"range":["M-1,0L1,0M0,-1L0,1","M-1,0L1,0M0,-1L0,1M-0.7,-0.7L0.7,0.7M-0.7,0.7L0.7,-0.7"]},"legend":null}}},
   {"transform":[{"filter":"datum.k=='t'"}],"mark":{"type":"text","font":"Liberation Sans","fontWeight":"bold","fontSize":13,"color":"#222"},"encoding":{"text":{"field":"t"}}}
  ]},
 {"width":32,"height":10,"data":{"values":[]},"mark":"point","view":{"stroke":null},
  "title":{"text":"Speaker SA","fontSize":23,"font":"Liberation Serif","fontWeight":"normal","color":"black","offset":12,"dx":-13}},
 {"width":111,"height":126,"title":"durée du CVC/durée de la phrase pour /i/, locuteur SA",
  "transform":[{"filter":"datum.p=='SAi'"}],
  "encoding":{"x":{"field":"x","type":"quantitative","scale":{"domain":[0.7,1.1],"nice":false},"axis":{"values":[0.7,0.75,0.8,0.85,0.9,0.95,1,1.05,1.1],"title":"durée de la phrase en s"}},
              "y":{"field":"y","type":"quantitative","scale":{"domain":[0.15,0.4],"nice":false},"axis":{"values":[0.15,0.2,0.25,0.3,0.35,0.4],"title":"durée du CVC en s"}}},
  "layer":[
   {"transform":[{"filter":"datum.k=='e'"}],"mark":{"type":"line","interpolate":"cardinal-closed","strokeWidth":1.3,"clip":true},"encoding":{"color":{"field":"g","type":"nominal","scale":{"domain":["r","b"],"range":["#ff0000","#0000ff"]},"legend":null},"order":{"field":"o","type":"quantitative"}}},
   {"transform":[{"filter":"datum.k=='p'"}],"mark":{"type":"point","filled":false,"size":14,"strokeWidth":0.9,"opacity":1,"clip":true},"encoding":{"color":{"field":"g","type":"nominal","scale":{"domain":["r","b"],"range":["#ff0000","#0000ff"]},"legend":null},"shape":{"field":"g","type":"nominal","scale":{"domain":["r","b"],"range":["M-1,0L1,0M0,-1L0,1","M-1,0L1,0M0,-1L0,1M-0.7,-0.7L0.7,0.7M-0.7,0.7L0.7,-0.7"]},"legend":null}}},
   {"transform":[{"filter":"datum.k=='t'"}],"mark":{"type":"text","font":"Liberation Serif","fontWeight":"bold","fontSize":13,"color":"#222"},"encoding":{"text":{"field":"t"}}}
  ]},
 {"width":32,"height":10,"data":{"values":[]},"mark":"point","view":{"stroke":null}},
 {"width":106,"height":130,"title":"durée du CVC/durée de la phrase pour /u/, locuteur SA",
  "transform":[{"filter":"datum.p=='SAu'"}],
  "encoding":{"x":{"field":"x","type":"quantitative","scale":{"domain":[0.7,1],"nice":false},"axis":{"values":[0.7,0.75,0.8,0.85,0.9,0.95,1],"title":"durée de la phrase en s"}},
              "y":{"field":"y","type":"quantitative","scale":{"domain":[0.1444,1.0111],"nice":false},"axis":{"values":[0.2,0.3,0.4,0.5,0.6,0.7,0.8,0.9,1],"title":"durée du CVC en s"}}},
  "layer":[
   {"transform":[{"filter":"datum.k=='e'"}],"mark":{"type":"line","interpolate":"cardinal-closed","strokeWidth":1.3,"clip":true},"encoding":{"color":{"field":"g","type":"nominal","scale":{"domain":["r","b"],"range":["#ff0000","#0000ff"]},"legend":null},"order":{"field":"o","type":"quantitative"}}},
   {"transform":[{"filter":"datum.k=='p'"}],"mark":{"type":"point","filled":false,"size":14,"strokeWidth":0.9,"opacity":1,"clip":true},"encoding":{"color":{"field":"g","type":"nominal","scale":{"domain":["r","b"],"range":["#ff0000","#0000ff"]},"legend":null},"shape":{"field":"g","type":"nominal","scale":{"domain":["r","b"],"range":["M-1,0L1,0M0,-1L0,1","M-1,0L1,0M0,-1L0,1M-0.7,-0.7L0.7,0.7M-0.7,0.7L0.7,-0.7"]},"legend":null}}},
   {"transform":[{"filter":"datum.k=='t'"}],"mark":{"type":"text","font":"Liberation Sans","fontWeight":"bold","fontSize":13,"color":"#222"},"encoding":{"text":{"field":"t"}}}
  ]}
]},
{"bounds":"flush","spacing":0,"hconcat":[
 {"width":115,"height":115,"title":"durée du CVC/durée de la phrase pour /a/, locuteur SS",
  "transform":[{"filter":"datum.p=='SSa'"}],
  "encoding":{"x":{"field":"x","type":"quantitative","scale":{"domain":[0.8,0.96],"nice":false},"axis":{"values":[0.8,0.82,0.84,0.86,0.88,0.9,0.92,0.94,0.96],"title":"durée de la phrase sans contexte"}},
              "y":{"field":"y","type":"quantitative","scale":{"domain":[0,0.15],"nice":false},"axis":{"values":[0,0.05,0.1,0.15],"title":"durée du CVC sans contexte"}}},
  "layer":[
   {"transform":[{"filter":"datum.k=='e'"}],"mark":{"type":"line","interpolate":"cardinal-closed","strokeWidth":1.3,"clip":true},"encoding":{"color":{"field":"g","type":"nominal","scale":{"domain":["r","b"],"range":["#ff0000","#0000ff"]},"legend":null},"order":{"field":"o","type":"quantitative"}}},
   {"transform":[{"filter":"datum.k=='p'"}],"mark":{"type":"point","filled":false,"size":14,"strokeWidth":0.9,"opacity":1,"clip":true},"encoding":{"color":{"field":"g","type":"nominal","scale":{"domain":["r","b"],"range":["#ff0000","#0000ff"]},"legend":null},"shape":{"field":"g","type":"nominal","scale":{"domain":["r","b"],"range":["M-1,0L1,0M0,-1L0,1","M-1,0L1,0M0,-1L0,1M-0.7,-0.7L0.7,0.7M-0.7,0.7L0.7,-0.7"]},"legend":null}}},
   {"transform":[{"filter":"datum.k=='t'"}],"mark":{"type":"text","font":"Liberation Sans","fontWeight":"bold","fontSize":13,"color":"#222"},"encoding":{"text":{"field":"t"}}}
  ]},
 {"width":35,"height":10,"data":{"values":[]},"mark":"point","view":{"stroke":null},
  "title":{"text":"Speaker SS","fontSize":23,"font":"Liberation Serif","fontWeight":"normal","color":"black","offset":12,"dx":96}},
 {"width":111,"height":115,"title":"durée du CVC/durée de la phrase pour /i/, locuteur SS",
  "transform":[{"filter":"datum.p=='SSi'"}],
  "encoding":{"x":{"field":"x","type":"quantitative","scale":{"domain":[0.7,1.1],"nice":false},"axis":{"values":[0.7,0.75,0.8,0.85,0.9,0.95,1,1.05,1.1],"title":"durée de la phrase sans contexte"}},
              "y":{"field":"y","type":"quantitative","scale":{"domain":[0.1,0.2],"nice":false},"axis":{"values":[0.1,0.11,0.12,0.13,0.14,0.15,0.16,0.17,0.18,0.19,0.2],"title":"durée du CVC sans contexte"}}},
  "layer":[
   {"transform":[{"filter":"datum.k=='e'"}],"mark":{"type":"line","interpolate":"cardinal-closed","strokeWidth":1.3,"clip":true},"encoding":{"color":{"field":"g","type":"nominal","scale":{"domain":["r","b"],"range":["#ff0000","#0000ff"]},"legend":null},"order":{"field":"o","type":"quantitative"}}},
   {"transform":[{"filter":"datum.k=='p'"}],"mark":{"type":"point","filled":false,"size":14,"strokeWidth":0.9,"opacity":1,"clip":true},"encoding":{"color":{"field":"g","type":"nominal","scale":{"domain":["r","b"],"range":["#ff0000","#0000ff"]},"legend":null},"shape":{"field":"g","type":"nominal","scale":{"domain":["r","b"],"range":["M-1,0L1,0M0,-1L0,1","M-1,0L1,0M0,-1L0,1M-0.7,-0.7L0.7,0.7M-0.7,0.7L0.7,-0.7"]},"legend":null}}},
   {"transform":[{"filter":"datum.k=='t'"}],"mark":{"type":"text","font":"Liberation Serif","fontWeight":"bold","fontSize":13,"color":"#222"},"encoding":{"text":{"field":"t"}}}
  ]},
 {"width":35,"height":10,"data":{"values":[]},"mark":"point","view":{"stroke":null}},
 {"width":120,"height":115,"title":"durée du CVC/durée de la phrase pour /u/, locuteur SS",
  "transform":[{"filter":"datum.p=='SSu'"}],
  "encoding":{"x":{"field":"x","type":"quantitative","scale":{"domain":[0.85,1.02],"nice":false},"axis":{"values":[0.86,0.88,0.9,0.92,0.94,0.96,0.98,1,1.02],"title":"durée de la phrase sans contexte"}},
              "y":{"field":"y","type":"quantitative","scale":{"domain":[0,0.15],"nice":false},"axis":{"values":[0,0.05,0.1,0.15],"title":"durée du CVC sans contexte"}}},
  "layer":[
   {"transform":[{"filter":"datum.k=='e'"}],"mark":{"type":"line","interpolate":"cardinal-closed","strokeWidth":1.3,"clip":true},"encoding":{"color":{"field":"g","type":"nominal","scale":{"domain":["r","b"],"range":["#ff0000","#0000ff"]},"legend":null},"order":{"field":"o","type":"quantitative"}}},
   {"transform":[{"filter":"datum.k=='p'"}],"mark":{"type":"point","filled":false,"size":14,"strokeWidth":0.9,"opacity":1,"clip":true},"encoding":{"color":{"field":"g","type":"nominal","scale":{"domain":["r","b"],"range":["#ff0000","#0000ff"]},"legend":null},"shape":{"field":"g","type":"nominal","scale":{"domain":["r","b"],"range":["M-1,0L1,0M0,-1L0,1","M-1,0L1,0M0,-1L0,1M-0.7,-0.7L0.7,0.7M-0.7,0.7L0.7,-0.7"]},"legend":null}}},
   {"transform":[{"filter":"datum.k=='t'"}],"mark":{"type":"text","font":"Liberation Sans","fontWeight":"bold","fontSize":13,"color":"#222"},"encoding":{"text":{"field":"t"}}}
  ]},
 {"width":80,"height":10,"data":{"values":[]},"mark":"point","view":{"stroke":null}},
 {"width":112,"height":116,"title":"durée du CVC/durée de la phrase pour /a/, locuteur HA",
  "transform":[{"filter":"datum.p=='HAa'"}],
  "encoding":{"x":{"field":"x","type":"quantitative","scale":{"domain":[0.7,1.3],"nice":false},"axis":{"values":[0.7,0.8,0.9,1,1.1,1.2,1.3],"title":"durée de la phrase en s"}},
              "y":{"field":"y","type":"quantitative","scale":{"domain":[0.1,0.6],"nice":false},"axis":{"values":[0.1,0.2,0.3,0.4,0.5,0.6],"title":"durée du CVC en s"}}},
  "layer":[
   {"transform":[{"filter":"datum.k=='e'"}],"mark":{"type":"line","interpolate":"cardinal-closed","strokeWidth":1.3,"clip":true},"encoding":{"color":{"field":"g","type":"nominal","scale":{"domain":["r","b"],"range":["#ff0000","#0000ff"]},"legend":null},"order":{"field":"o","type":"quantitative"}}},
   {"transform":[{"filter":"datum.k=='p'"}],"mark":{"type":"point","filled":false,"size":14,"strokeWidth":0.9,"opacity":1,"clip":true},"encoding":{"color":{"field":"g","type":"nominal","scale":{"domain":["r","b"],"range":["#ff0000","#0000ff"]},"legend":null},"shape":{"field":"g","type":"nominal","scale":{"domain":["r","b"],"range":["M-1,0L1,0M0,-1L0,1","M-1,0L1,0M0,-1L0,1M-0.7,-0.7L0.7,0.7M-0.7,0.7L0.7,-0.7"]},"legend":null}}},
   {"transform":[{"filter":"datum.k=='t'"}],"mark":{"type":"text","font":"Liberation Sans","fontWeight":"bold","fontSize":13,"color":"#222"},"encoding":{"text":{"field":"t"}}}
  ]},
 {"width":31,"height":10,"data":{"values":[]},"mark":"point","view":{"stroke":null},
  "title":{"text":"Speaker HA","fontSize":23,"font":"Liberation Serif","fontWeight":"normal","color":"black","offset":12,"dx":18}},
 {"width":108,"height":116,"title":"durée du CVC/durée de la phrase pour /i/, locuteur HA",
  "transform":[{"filter":"datum.p=='HAi'"}],
  "encoding":{"x":{"field":"x","type":"quantitative","scale":{"domain":[0.7,1.3],"nice":false},"axis":{"values":[0.7,0.8,0.9,1,1.1,1.2,1.3],"title":"durée de la phrase en s"}},
              "y":{"field":"y","type":"quantitative","scale":{"domain":[0.5,1],"nice":false},"axis":{"values":[0.5,0.55,0.6,0.65,0.7,0.75,0.8,0.85,0.9,0.95,1],"title":"durée du CVC en s"}}},
  "layer":[
   {"transform":[{"filter":"datum.k=='e'"}],"mark":{"type":"line","interpolate":"cardinal-closed","strokeWidth":1.3,"clip":true},"encoding":{"color":{"field":"g","type":"nominal","scale":{"domain":["r","b"],"range":["#ff0000","#0000ff"]},"legend":null},"order":{"field":"o","type":"quantitative"}}},
   {"transform":[{"filter":"datum.k=='p'"}],"mark":{"type":"point","filled":false,"size":14,"strokeWidth":0.9,"opacity":1,"clip":true},"encoding":{"color":{"field":"g","type":"nominal","scale":{"domain":["r","b"],"range":["#ff0000","#0000ff"]},"legend":null},"shape":{"field":"g","type":"nominal","scale":{"domain":["r","b"],"range":["M-1,0L1,0M0,-1L0,1","M-1,0L1,0M0,-1L0,1M-0.7,-0.7L0.7,0.7M-0.7,0.7L0.7,-0.7"]},"legend":null}}},
   {"transform":[{"filter":"datum.k=='t'"}],"mark":{"type":"text","font":"Liberation Serif","fontWeight":"bold","fontSize":13,"color":"#222"},"encoding":{"text":{"field":"t"}}}
  ]},
 {"width":31,"height":10,"data":{"values":[]},"mark":"point","view":{"stroke":null}},
 {"width":111,"height":116,"title":"durée du CVC/durée de la phrase pour /u/, locuteur HA",
  "transform":[{"filter":"datum.p=='HAu'"}],
  "encoding":{"x":{"field":"x","type":"quantitative","scale":{"domain":[0.8,1.3],"nice":false},"axis":{"values":[0.8,0.85,0.9,0.95,1,1.05,1.1,1.15,1.2,1.25,1.3],"title":"durée de la phrase en s"}},
              "y":{"field":"y","type":"quantitative","scale":{"domain":[0,0.5],"nice":false},"axis":{"values":[0,0.05,0.1,0.15,0.2,0.25,0.3,0.35,0.4,0.45,0.5],"title":"durée du CVC en s"}}},
  "layer":[
   {"transform":[{"filter":"datum.k=='e'"}],"mark":{"type":"line","interpolate":"cardinal-closed","strokeWidth":1.3,"clip":true},"encoding":{"color":{"field":"g","type":"nominal","scale":{"domain":["r","b"],"range":["#ff0000","#0000ff"]},"legend":null},"order":{"field":"o","type":"quantitative"}}},
   {"transform":[{"filter":"datum.k=='p'"}],"mark":{"type":"point","filled":false,"size":14,"strokeWidth":0.9,"opacity":1,"clip":true},"encoding":{"color":{"field":"g","type":"nominal","scale":{"domain":["r","b"],"range":["#ff0000","#0000ff"]},"legend":null},"shape":{"field":"g","type":"nominal","scale":{"domain":["r","b"],"range":["M-1,0L1,0M0,-1L0,1","M-1,0L1,0M0,-1L0,1M-0.7,-0.7L0.7,0.7M-0.7,0.7L0.7,-0.7"]},"legend":null}}},
   {"transform":[{"filter":"datum.k=='t'"}],"mark":{"type":"text","font":"Liberation Sans","fontWeight":"bold","fontSize":13,"color":"#222"},"encoding":{"text":{"field":"t"}}}
  ]}
]}
]
}
